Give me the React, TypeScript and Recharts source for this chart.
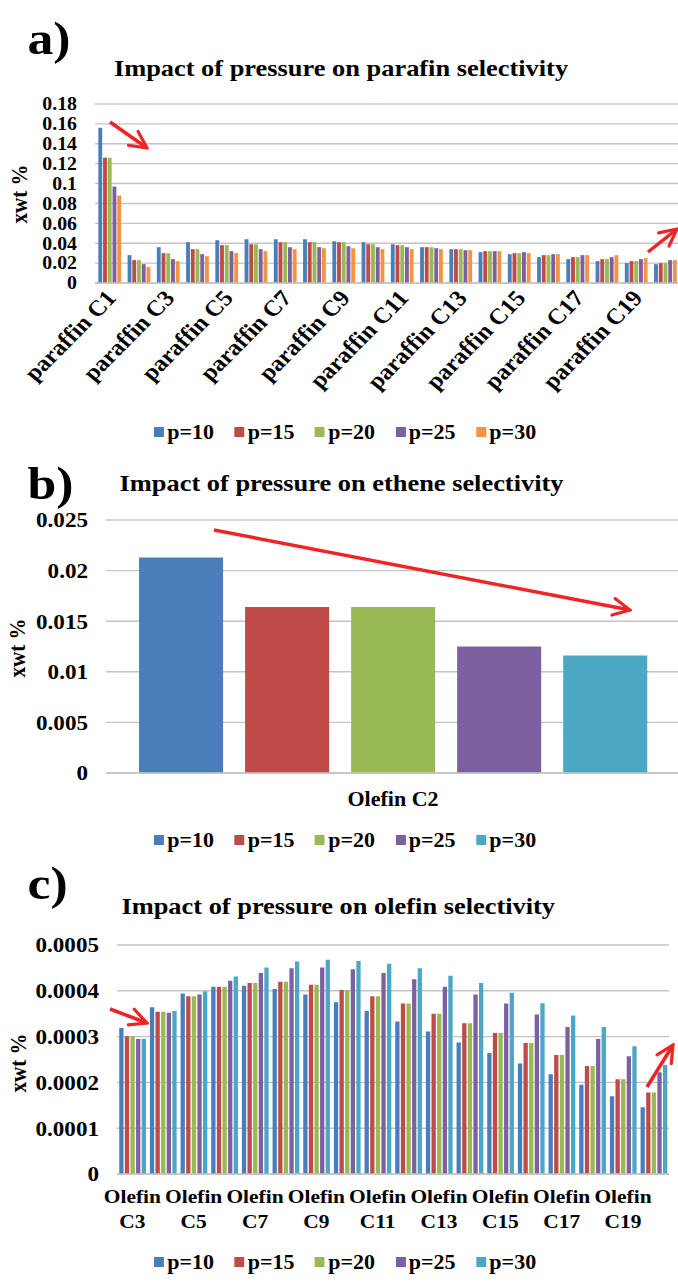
import React from 'react';
import { BarChart, Bar, XAxis, YAxis, CartesianGrid } from 'recharts';

// ---- data ----
const parafinCats = [
  'paraffin C1', 'paraffin C2', 'paraffin C3', 'paraffin C4', 'paraffin C5',
  'paraffin C6', 'paraffin C7', 'paraffin C8', 'paraffin C9', 'paraffin C10',
  'paraffin C11', 'paraffin C12', 'paraffin C13', 'paraffin C14', 'paraffin C15',
  'paraffin C16', 'paraffin C17', 'paraffin C18', 'paraffin C19', 'paraffin C20',
];
const parafinP10 = [0.156, 0.028, 0.036, 0.041, 0.043, 0.044, 0.044, 0.044, 0.042, 0.041, 0.039, 0.036, 0.034, 0.031, 0.029, 0.026, 0.024, 0.022, 0.020, 0.019];
const parafinP15 = [0.126, 0.023, 0.030, 0.034, 0.038, 0.039, 0.041, 0.041, 0.041, 0.039, 0.038, 0.036, 0.034, 0.032, 0.030, 0.028, 0.026, 0.024, 0.022, 0.020];
const parafinP20 = [0.126, 0.023, 0.030, 0.034, 0.038, 0.039, 0.041, 0.041, 0.041, 0.039, 0.038, 0.036, 0.034, 0.032, 0.030, 0.028, 0.026, 0.024, 0.022, 0.020];
const parafinP25 = [0.097, 0.019, 0.024, 0.029, 0.032, 0.034, 0.036, 0.036, 0.037, 0.036, 0.036, 0.035, 0.033, 0.032, 0.031, 0.029, 0.028, 0.026, 0.024, 0.023];
const parafinP30 = [0.088, 0.016, 0.022, 0.027, 0.030, 0.032, 0.034, 0.035, 0.035, 0.034, 0.034, 0.034, 0.033, 0.032, 0.030, 0.029, 0.028, 0.028, 0.025, 0.023];

const etheneCats = ['Olefin C2'];
const etheneP10 = [0.0213];
const etheneP15 = [0.0164];
const etheneP20 = [0.0164];
const etheneP25 = [0.0125];
const etheneP30 = [0.0116];

const olefinCats = [
  'Olefin C3', 'Olefin C4', 'Olefin C5', 'Olefin C6', 'Olefin C7', 'Olefin C8',
  'Olefin C9', 'Olefin C10', 'Olefin C11', 'Olefin C12', 'Olefin C13', 'Olefin C14',
  'Olefin C15', 'Olefin C16', 'Olefin C17', 'Olefin C18', 'Olefin C19', 'Olefin C20',
];
const olefinP10 = [0.000319, 0.000364, 0.000394, 0.000409, 0.000411, 0.000404, 0.000392, 0.000375, 0.000356, 0.000333, 0.000311, 0.000287, 0.000264, 0.000241, 0.000218, 0.000195, 0.00017, 0.000146];
const olefinP15 = [0.000301, 0.000354, 0.000388, 0.000409, 0.000417, 0.00042, 0.000413, 0.000402, 0.000388, 0.000372, 0.00035, 0.000329, 0.000308, 0.000286, 0.00026, 0.000236, 0.000207, 0.000178];
const olefinP20 = [0.000301, 0.000354, 0.000388, 0.000409, 0.000417, 0.00042, 0.000413, 0.000402, 0.000388, 0.000372, 0.00035, 0.000329, 0.000308, 0.000286, 0.00026, 0.000236, 0.000207, 0.000178];
const olefinP25 = [0.000295, 0.000352, 0.000392, 0.000422, 0.000439, 0.000449, 0.000451, 0.000447, 0.000439, 0.000425, 0.000409, 0.000392, 0.000372, 0.000348, 0.000321, 0.000295, 0.000257, 0.000222];
const olefinP30 = [0.000295, 0.000356, 0.000399, 0.000431, 0.000451, 0.000464, 0.000468, 0.000465, 0.000459, 0.000449, 0.000433, 0.000417, 0.000396, 0.000373, 0.000346, 0.000321, 0.000279, 0.000238];

const seriesNames = ['p=10', 'p=15', 'p=20', 'p=25', 'p=30'];
const seriesKeys = ['p10', 'p15', 'p20', 'p25', 'p30'];

const parafinTicks = [0, 0.02, 0.04, 0.06, 0.08, 0.1, 0.12, 0.14, 0.16, 0.18];
const etheneTicks = [0, 0.005, 0.01, 0.015, 0.02, 0.025];
const olefinTicks = [0, 0.0001, 0.0002, 0.0003, 0.0004, 0.0005];

// ---- styling ----
const S = 1.1; // the source figure is slightly stretched horizontally
const W = 678 / S;
const FONT = "'Liberation Serif', 'Times New Roman', serif";
const GRID = '#c4c4c4';
const colorsA = ['#4A7EBB', '#BE4B48', '#98B954', '#7D60A0', '#F59342'];
const colorsBC = ['#4A7EBB', '#BE4B48', '#98B954', '#7D60A0', '#4BA7C3'];
const ARROW = '#F02424';

const toRows = (cats: string[], cols: number[][]) =>
  cats.map((name, i) => {
    const r: any = { name };
    seriesKeys.forEach((k, j) => { r[k] = cols[j][i]; });
    return r;
  });

const parafinData = toRows(parafinCats, [parafinP10, parafinP15, parafinP20, parafinP25, parafinP30]);
const etheneData = toRows(etheneCats, [etheneP10, etheneP15, etheneP20, etheneP25, etheneP30]);
const olefinData = toRows(olefinCats, [olefinP10, olefinP15, olefinP20, olefinP25, olefinP30]);

const tickStyle = { fontFamily: FONT, fontSize: 21, fontWeight: 'bold', fill: '#000' };

const SlantTick = ({ x, y, payload }: any) => (
  <text
    x={x + 7} y={y + 16}
    transform={`rotate(-48, ${x + 7}, ${y + 16})`}
    textAnchor="end"
    style={{ ...tickStyle, fontSize: 22.5 }}
  >{payload.value}</text>
);

const OneLineTick = ({ x, y, payload }: any) => (
  <text x={x} y={y + 33} textAnchor="middle" style={{ ...tickStyle, fontSize: 20 }}>{payload.value}</text>
);

const TwoLineTick = ({ x, y, payload }: any) => {
  const [a, b] = String(payload.value).split(' ');
  return (
    <text textAnchor="middle" style={{ ...tickStyle, fontSize: 19.5 }}>
      <tspan x={x} y={y + 29}>{a}</tspan>
      <tspan x={x} y={y + 54}>{b}</tspan>
    </text>
  );
};

const LegendRow = ({ top, colors }: { top: number; colors: string[] }) => (
  <div style={{
    position: 'absolute', left: 140, top: top - 11, height: 22, display: 'flex', alignItems: 'center',
    fontFamily: FONT, fontWeight: 'bold', fontSize: 20, whiteSpace: 'nowrap', color: '#000',
  }}>
    {seriesNames.map((n, i) => (
      <div key={n} style={{ display: 'flex', alignItems: 'center', marginRight: 18.7 }}>
        <span style={{ display: 'inline-block', width: 9, height: 10, background: colors[i], marginRight: 3 }} />
        <span>{n}</span>
      </div>
    ))}
  </div>
);

const bars = (colors: string[], size: number) =>
  seriesKeys.map((k, i) => (
    <Bar key={k} dataKey={k} name={seriesNames[i]} fill={colors[i]} barSize={size} isAnimationActive={false} />
  ));

const yAxis = (ticks: number[], width: number, fontSize = 21) => (
  <YAxis
    type="number" domain={[ticks[0], ticks[ticks.length - 1]]} ticks={ticks}
    tickFormatter={(v: number) => String(v)} width={width}
    axisLine={false} tickLine={false} tickSize={0} tickMargin={16.4}
    tick={{ ...tickStyle, fontSize }} interval={0}
  />
);

const arrow = (x1: number, y1: number, x2: number, y2: number) => (
  <line x1={x1} y1={y1} x2={x2} y2={y2} stroke={ARROW} strokeWidth={3.5} markerEnd="url(#head)" />
);

const App = () => {
  const title = { fontFamily: FONT, fontWeight: 'bold', fill: '#000' } as const;
  return (
    <div style={{ position: 'absolute', left: 0, top: 0, width: 678, height: 1283, overflow: 'hidden', background: '#fff' }}>
      <div style={{ position: 'absolute', left: 0, top: 0, width: W, height: 1283, transform: `scaleX(${S})`, transformOrigin: '0 0' }}>
        {/* a) paraffin */}
        <div style={{ position: 'absolute', left: 0, top: 90 }}>
          <BarChart width={620} height={360} data={parafinData} barGap={0.8}
            margin={{ top: 14, right: 1.8, left: 0, bottom: 0 }}>
            <CartesianGrid vertical={false} stroke={GRID} strokeWidth={1.4} />
            <XAxis dataKey="name" interval={1} height={167} tickLine={false} tickSize={0} tickMargin={0}
              axisLine={{ stroke: GRID, strokeWidth: 1.4 }} tick={<SlantTick />} />
            {yAxis(parafinTicks, 86.4, 18)}
            {bars(colorsA, 3.5)}
          </BarChart>
        </div>
        {/* b) ethene */}
        <div style={{ position: 'absolute', left: 0, top: 505 }}>
          <BarChart width={620} height={320} data={etheneData} barGap={20}
            margin={{ top: 15, right: 1.8, left: 0, bottom: 0 }}>
            <CartesianGrid vertical={false} stroke={GRID} strokeWidth={1.4} />
            <XAxis dataKey="name" height={52} tickLine={false} tickSize={0} tickMargin={0}
              axisLine={{ stroke: GRID, strokeWidth: 1.4 }} tick={<OneLineTick />} />
            {yAxis(etheneTicks, 96.4)}
            {bars(colorsBC, 76.4)}
          </BarChart>
        </div>
        {/* c) olefin */}
        <div style={{ position: 'absolute', left: 0, top: 930 }}>
          <BarChart width={616} height={340} data={olefinData} barGap={1.2}
            margin={{ top: 15, right: 7.8, left: 0, bottom: 0 }}>
            <CartesianGrid vertical={false} stroke={GRID} strokeWidth={1.4} />
            <XAxis dataKey="name" interval={1} height={96} tickLine={false} tickSize={0} tickMargin={0}
              axisLine={{ stroke: GRID, strokeWidth: 1.4 }} tick={<TwoLineTick />} />
            {yAxis(olefinTicks, 106.4)}
            {bars(colorsBC, 3.9)}
          </BarChart>
        </div>

        <LegendRow top={432} colors={colorsA} />
        <LegendRow top={840} colors={colorsBC} />
        <LegendRow top={1262} colors={colorsBC} />

        <svg width={W} height={1283} style={{ position: 'absolute', left: 0, top: 0, pointerEvents: 'none' }}>
          <text x={25} y={54} fontSize={47} {...title}>a)</text>
          <text x={310} y={76} fontSize={24} textAnchor="middle" {...title}>Impact of pressure on parafin selectivity</text>
          <text x={25} y={194} fontSize={21} textAnchor="middle" transform="rotate(-90, 25, 194)" {...title}>xwt %</text>

          <text x={25} y={499} fontSize={47} {...title}>b)</text>
          <text x={310.5} y={491} fontSize={24} textAnchor="middle" {...title}>Impact of pressure on ethene selectivity</text>
          <text x={23} y={648} fontSize={21} textAnchor="middle" transform="rotate(-90, 23, 648)" {...title}>xwt %</text>

          <text x={25} y={899} fontSize={47} {...title}>c)</text>
          <text x={307.5} y={914} fontSize={24} textAnchor="middle" {...title}>Impact of pressure on olefin selectivity</text>
          <text x={24} y={1063} fontSize={21} textAnchor="middle" transform="rotate(-90, 24, 1063)" {...title}>xwt %</text>
        </svg>
      </div>

      {/* red trend arrows (annotations) */}
      <svg width={678} height={1283} style={{ position: 'absolute', left: 0, top: 0, pointerEvents: 'none' }}>
        <defs>
          <marker id="head" viewBox="0 0 10 10" refX="9" refY="5" markerWidth="6" markerHeight="6" orient="auto">
            <path d="M1,1 L9,5 L1,9" fill="none" stroke={ARROW} strokeWidth={1.5} strokeLinecap="round" />
          </marker>
        </defs>
        {arrow(110, 122, 147, 148)}
        {arrow(648, 252, 677, 229)}
        {arrow(214, 530, 630, 610)}
        {arrow(110, 1009, 147, 1023)}
        {arrow(647, 1087, 673, 1045)}
      </svg>
    </div>
  );
};

export default App;
